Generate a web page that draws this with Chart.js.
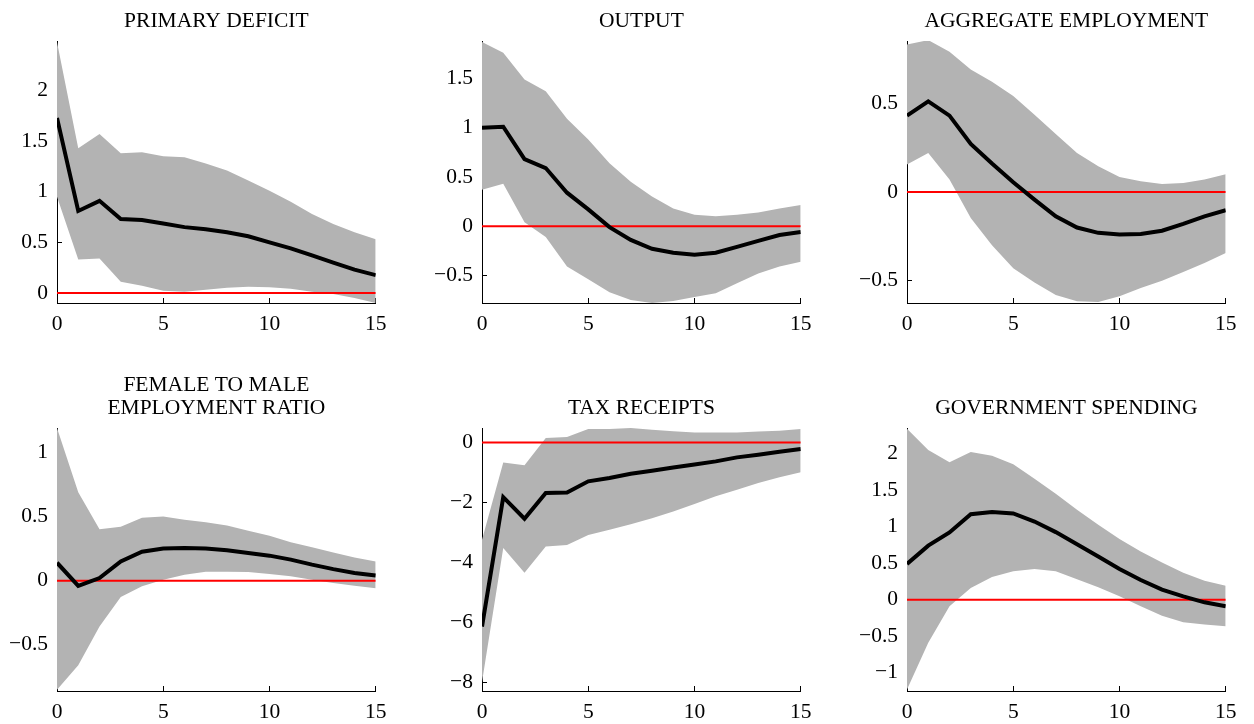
<!DOCTYPE html>
<html lang="en">
<head>
  <meta charset="UTF-8" />
  <title>Impulse responses</title>
  <style>
    body {
      margin: 0;
      background: #fff;
    }

    .fig {
      position: relative;
      width: 1254px;
      height: 724px;
    }

    .fig canvas {
      position: absolute;
    }
  </style>
  <script src="https://cdn.jsdelivr.net/npm/chart.js"></script>
</head>
<body>

  <div class="fig">
    <canvas id="p0" width="400" height="343" style="left:0px;top:0px"></canvas>
    <canvas id="p1" width="400" height="343" style="left:425px;top:0px"></canvas>
    <canvas id="p2" width="400" height="343" style="left:850px;top:0px"></canvas>
    <canvas id="p3" width="400" height="364" style="left:0px;top:360px"></canvas>
    <canvas id="p4" width="400" height="364" style="left:425px;top:360px"></canvas>
    <canvas id="p5" width="400" height="364" style="left:850px;top:360px"></canvas>
  </div>

  <script>
    const horizon = [0, 1, 2, 3, 4, 5, 6, 7, 8, 9, 10, 11, 12, 13, 14, 15];
    const xTicks = [0, 5, 10, 15];

    // primary deficit
    const deficitMid = [1.73, 0.81, 0.91, 0.73, 0.72, 0.685, 0.65, 0.63, 0.60, 0.56, 0.50, 0.44, 0.37, 0.30, 0.23, 0.175];
    const deficitHi = [2.48, 1.43, 1.57, 1.38, 1.39, 1.35, 1.34, 1.28, 1.21, 1.11, 1.01, 0.90, 0.78, 0.68, 0.60, 0.53];
    const deficitLo = [0.95, 0.33, 0.34, 0.11, 0.07, 0.02, 0.01, 0.03, 0.05, 0.06, 0.055, 0.04, 0.01, -0.01, -0.05, -0.10];

    // output
    const outputMid = [1.0, 1.01, 0.68, 0.59, 0.34, 0.17, -0.01, -0.14, -0.23, -0.27, -0.29, -0.27, -0.21, -0.15, -0.09, -0.06];
    const outputHi = [1.87, 1.76, 1.49, 1.37, 1.09, 0.88, 0.64, 0.45, 0.30, 0.18, 0.115, 0.10, 0.115, 0.14, 0.18, 0.215];
    const outputLo = [0.37, 0.43, 0.04, -0.11, -0.41, -0.54, -0.67, -0.75, -0.78, -0.76, -0.72, -0.68, -0.58, -0.48, -0.41, -0.36];

    // aggregate employment
    const employMid = [0.43, 0.51, 0.43, 0.27, 0.16, 0.055, -0.043, -0.137, -0.20, -0.23, -0.24, -0.236, -0.218, -0.18, -0.137, -0.103];
    const employHi = [0.83, 0.855, 0.79, 0.69, 0.62, 0.54, 0.435, 0.326, 0.22, 0.145, 0.085, 0.06, 0.045, 0.05, 0.07, 0.10];
    const employLo = [0.155, 0.22, 0.07, -0.146, -0.30, -0.43, -0.51, -0.58, -0.615, -0.62, -0.587, -0.54, -0.50, -0.45, -0.40, -0.343];

    // female to male employment ratio
    const ratioMid = [0.14, -0.04, 0.02, 0.15, 0.225, 0.25, 0.255, 0.25, 0.237, 0.216, 0.195, 0.164, 0.125, 0.09, 0.06, 0.04];
    const ratioHi = [1.19, 0.69, 0.40, 0.42, 0.49, 0.50, 0.475, 0.455, 0.43, 0.39, 0.35, 0.30, 0.26, 0.22, 0.18, 0.15];
    const ratioLo = [-0.85, -0.66, -0.357, -0.128, -0.044, 0.008, 0.047, 0.07, 0.07, 0.068, 0.052, 0.034, 0.008, -0.018, -0.04, -0.06];

    // tax receipts
    const taxMid = [-6.15, -1.83, -2.55, -1.69, -1.67, -1.30, -1.19, -1.05, -0.95, -0.84, -0.74, -0.635, -0.50, -0.41, -0.31, -0.22];
    const taxHi = [-3.25, -0.67, -0.76, 0.145, 0.18, 0.45, 0.45, 0.48, 0.42, 0.37, 0.33, 0.33, 0.33, 0.36, 0.39, 0.45];
    const taxLo = [-8.0, -3.53, -4.35, -3.48, -3.43, -3.09, -2.92, -2.73, -2.53, -2.31, -2.06, -1.80, -1.58, -1.36, -1.16, -1.00];

    // government spending
    const govMid = [0.49, 0.74, 0.92, 1.17, 1.20, 1.18, 1.07, 0.925, 0.76, 0.59, 0.42, 0.27, 0.137, 0.046, -0.036, -0.09];
    const govHi = [2.34, 2.05, 1.88, 2.02, 1.97, 1.855, 1.655, 1.45, 1.23, 1.025, 0.83, 0.66, 0.51, 0.37, 0.26, 0.19];
    const govLo = [-1.23, -0.59, -0.09, 0.16, 0.31, 0.39, 0.42, 0.39, 0.28, 0.17, 0.046, -0.09, -0.22, -0.31, -0.34, -0.365];

    const titles = [
      'PRIMARY DEFICIT', 'OUTPUT', 'AGGREGATE EMPLOYMENT',
      ['FEMALE TO MALE', 'EMPLOYMENT RATIO'], 'TAX RECEIPTS', 'GOVERNMENT SPENDING'
    ];
    const yTicks = [
      [0, 0.5, 1, 1.5, 2],
      [-0.5, 0, 0.5, 1, 1.5],
      [-0.5, 0, 0.5],
      [-0.5, 0, 0.5, 1],
      [-8, -6, -4, -2, 0],
      [-1, -0.5, 0, 0.5, 1, 1.5, 2]
    ];
    const yLimits = [[-0.1, 2.49], [-0.78, 1.88], [-0.625, 0.85], [-0.86, 1.19], [-8.3, 0.48], [-1.25, 2.35]];

    const mids = [deficitMid, outputMid, employMid, ratioMid, taxMid, govMid];
    const highs = [deficitHi, outputHi, employHi, ratioHi, taxHi, govHi];
    const lows = [deficitLo, outputLo, employLo, ratioLo, taxLo, govLo];

    Chart.defaults.font.family = "'Liberation Serif', 'Times New Roman', serif";
    Chart.defaults.color = '#000';

    const FONT = { size: 21.5 };
    const toXY = vals => horizon.map((h, i) => ({ x: h, y: vals[i] }));
    const fmt = v => String(v).replace('-', '\u2212');

    function makePanel(i) {
      const row = i < 3 ? 0 : 1;
      const twoLines = Array.isArray(titles[i]);
      let pad;
      if (row === 0) pad = { top: 9.5, bottom: 8.5 };
      else pad = twoLines ? { top: 13.5, bottom: 8.5 } : { top: 36.5, bottom: 8.5 };

      const last = horizon.length - 1;
      new Chart(document.getElementById('p' + i), {
        type: 'line',
        data: {
          datasets: [
            { data: toXY(mids[i]), borderColor: '#000', borderWidth: 4, pointRadius: 0, fill: false },
            { data: [{ x: horizon[0], y: 0 }, { x: horizon[last], y: 0 }], borderColor: '#ff0000', borderWidth: 2, pointRadius: 0, fill: false },
            { data: toXY(highs[i]), borderColor: 'rgba(0,0,0,0)', borderWidth: 0, pointRadius: 0, backgroundColor: '#b3b3b3', fill: '+1' },
            { data: toXY(lows[i]), borderColor: 'rgba(0,0,0,0)', borderWidth: 0, pointRadius: 0, fill: false }
          ]
        },
        options: {
          responsive: false,
          animation: false,
          layout: { padding: { left: 0, right: 20, top: 0, bottom: 0 } },
          plugins: {
            legend: { display: false },
            tooltip: { enabled: false },
            title: {
              display: true,
              text: titles[i],
              fullSize: false,
              color: '#000',
              font: { size: 21.5, weight: 'normal', lineHeight: 23 / 21.5 },
              padding: pad
            }
          },
          scales: {
            x: {
              type: 'linear',
              min: 0,
              max: 15,
              afterBuildTicks: s => { s.ticks = xTicks.map(v => ({ value: v })); },
              afterFit: s => { s.height = row === 0 ? 40 : 33; },
              ticks: { font: FONT, padding: 13.5, maxRotation: 0, callback: fmt },
              grid: { drawOnChartArea: false, drawTicks: true, tickLength: -5, color: '#000', tickColor: '#000' },
              border: { display: true, color: '#000', width: 1 }
            },
            y: {
              min: yLimits[i][0],
              max: yLimits[i][1],
              afterBuildTicks: s => { s.ticks = yTicks[i].map(v => ({ value: v })); },
              afterFit: s => { s.width = 57; },
              ticks: { font: FONT, padding: 14, callback: fmt },
              grid: { drawOnChartArea: false, drawTicks: true, tickLength: -5, color: '#000', tickColor: '#000' },
              border: { display: true, color: '#000', width: 1 }
            }
          }
        }
      });
    }

    for (let i = 0; i < 6; i++) makePanel(i);
  </script>

</body>
</html>
